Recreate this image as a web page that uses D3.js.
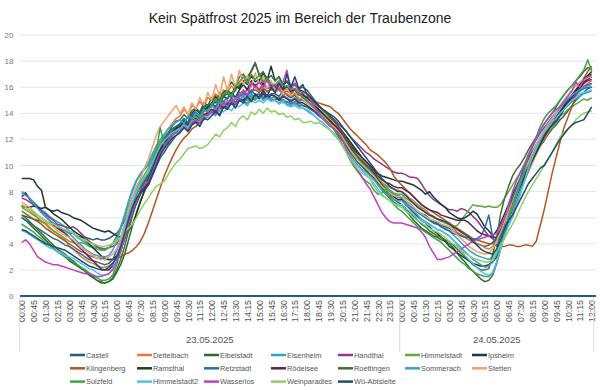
<!DOCTYPE html>
<html><head><meta charset="utf-8">
<script src="https://cdn.jsdelivr.net/npm/d3@7"></script>
<style>body{margin:0;background:#fff;}svg{display:block;font-family:"Liberation Sans",Arial,sans-serif;}</style>
</head><body><svg id="c" width="600" height="390"></svg>
<script>
const title = "Kein Spätfrost 2025 im Bereich der Traubenzone";
const days = ["23.05.2025", "24.05.2025"];
const dayLengths = [96, 49]; // 15-minute readings per day shown
const yTicks = [0, 2, 4, 6, 8, 10, 12, 14, 16, 18, 20];
const seriesNames = ["Castell","Dettelbach","Eibelstadt","Eisenheim","Handthal","Himmelstadt","Ipsheim",
  "Klingenberg","Ramsthal","Retzstadt","Rödelsee","Roettingen","Sommerach","Stetten",
  "Sulzfeld","Himmelstadt2","Wasserlos","Weinparadies","Wü-Abtsleite"];
const seriesColors = ["#1f5f7a","#e07b39","#2a6b2f","#2ba5c2","#8f3a8f","#5fab3c","#163b3b",
  "#b5561f","#203b28","#2b6f9e","#5b2357","#3e6e35","#3b9fd6","#f2a06d",
  "#3da24a","#50c2ef","#c13fc1","#8fcf63","#1d4d6e"];

const castell = [6.2,6.1,6.0,5.9,5.8,5.7,5.6,5.6,5.4,5.3,5.1,5.0,4.8,4.8,4.6,4.5,4.5,4.4,4.3,4.4,4.3,4.3,4.4,4.6,4.8,5.2,5.8,6.4,7.0,7.5,7.9,8.2,8.5,9.2,9.9,10.6,11.0,11.5,11.9,12.3,12.6,12.9,12.7,13.2,13.4,13.2,13.7,13.9,14.0,14.3,13.9,14.5,14.4,14.8,14.5,15.0,15.0,14.6,15.2,15.3,15.1,15.6,15.2,15.5,15.5,15.3,15.7,15.4,15.2,15.4,15.0,15.1,14.8,14.6,14.5,14.2,14.0,13.6,13.4,13.0,12.5,12.2,11.8,11.3,10.9,10.5,10.1,9.7,9.3,9.0,8.6,8.3,8.1,7.9,7.7,7.6,
  7.5,7.2,7.0,6.8,6.5,6.3,6.2,5.9,5.7,5.6,5.4,5.3,5.2,5.0,4.8,4.7,4.5,4.3,4.2,4.0,3.9,3.8,3.9,4.1,4.5,5.1,5.8,6.4,7.0,7.8,8.6,9.2,9.8,10.4,10.9,11.5,11.9,12.4,12.8,13.1,13.5,13.8,14.2,14.6,15.0,15.3,15.6,15.9,16.0];
const dettelbach = [7.0,6.8,6.6,6.3,6.0,5.7,5.6,5.3,5.0,4.8,4.5,4.3,3.8,3.6,3.3,3.0,2.8,2.6,2.5,2.3,2.2,2.2,2.3,2.5,3.0,3.6,4.4,5.4,6.2,7.2,8.0,8.8,9.5,10.3,11.0,11.8,12.3,12.8,13.2,13.6,13.8,14.3,13.9,14.6,14.4,14.9,14.5,15.2,15.0,15.5,15.1,15.8,15.6,16.1,15.7,16.3,16.2,15.8,16.4,16.0,15.7,16.1,15.6,15.9,15.6,15.8,15.4,15.5,15.3,15.5,15.1,15.2,15.0,14.7,14.5,14.3,14.1,13.8,13.6,13.3,13.0,12.6,12.2,11.8,11.4,11.0,10.6,10.2,9.8,9.4,9.0,8.7,8.5,8.3,8.2,8.1,
  8.0,7.8,7.5,7.3,7.0,6.8,6.6,6.3,6.1,5.9,5.8,5.6,5.5,5.2,4.9,4.7,4.5,4.3,4.1,4.0,3.9,3.7,3.6,3.8,4.2,4.8,5.4,5.9,6.5,7.3,8.0,8.8,9.5,10.2,10.9,11.5,12.0,12.5,12.9,13.4,13.8,14.3,14.6,15.0,15.4,15.7,16.1,16.3,16.5];
const eibelstadt = [6.0,5.8,5.5,5.2,4.9,4.6,4.3,4.0,3.7,3.4,3.2,3.0,2.7,2.5,2.3,2.1,1.9,1.6,1.4,1.2,1.1,1.0,1.1,1.3,1.8,2.4,3.2,4.3,5.4,6.4,7.3,8.0,8.6,9.4,10.2,11.0,11.6,12.2,12.6,13.0,13.1,13.5,13.2,13.8,14.0,13.7,14.3,14.5,14.5,15.0,14.6,15.3,15.5,15.2,15.9,16.1,16.4,16.8,17.2,17.8,17.0,16.4,16.8,16.2,16.0,16.3,15.8,16.1,15.8,15.5,15.6,15.2,14.9,14.7,14.4,14.1,13.8,13.5,13.2,12.8,12.3,11.9,11.5,11.0,10.6,10.2,9.9,9.6,9.3,9.0,8.6,8.2,7.9,7.7,7.4,7.2,
  7.0,6.6,6.2,5.8,5.5,5.2,5.0,4.8,4.6,4.5,4.3,4.2,4.0,3.7,3.3,2.9,2.6,2.2,1.9,1.6,1.3,1.1,1.2,1.6,2.5,3.6,4.8,5.8,6.8,7.8,8.6,9.3,10.0,10.6,11.2,11.8,12.3,12.7,13.1,13.6,14.0,14.4,14.8,15.3,15.7,16.2,16.6,16.9,17.0];
const eisenheim = [8.0,7.8,7.5,7.2,6.9,6.6,6.4,6.1,5.9,5.7,5.5,5.3,5.0,4.8,4.5,4.3,4.1,3.9,3.8,3.7,3.7,3.6,3.7,4.0,4.6,5.3,6.2,7.2,8.0,8.8,9.3,9.7,10.0,10.7,11.3,11.8,12.2,12.5,12.8,12.9,13.0,13.4,13.2,13.7,13.6,14.0,13.8,14.1,14.3,14.0,14.5,14.8,14.6,15.0,14.7,15.1,15.2,15.0,15.4,15.1,15.3,15.5,15.2,15.4,15.3,15.1,15.4,15.2,15.0,15.2,14.9,15.0,14.8,14.6,14.4,14.1,13.9,13.6,13.3,13.0,12.6,12.2,11.8,11.4,11.0,10.6,10.3,9.9,9.6,9.2,8.9,8.5,8.3,8.0,7.8,7.7,
  7.6,7.3,7.1,6.8,6.5,6.3,6.0,5.8,5.6,5.5,5.3,5.2,5.0,4.7,4.4,4.1,3.8,3.5,3.3,3.1,3.0,2.9,2.8,3.0,3.4,4.0,4.8,5.5,6.2,7.1,8.0,8.9,9.6,10.4,11.1,11.8,12.3,12.7,13.2,13.7,14.2,14.5,14.6,14.9,15.1,15.3,15.5,15.6,15.7];
const handthal = [7.5,7.4,7.2,7.0,6.8,6.5,6.3,6.0,5.8,5.5,5.4,5.3,5.2,5.3,5.1,4.8,4.5,4.2,4.0,3.8,3.6,3.6,3.7,3.8,4.0,4.5,5.4,6.3,7.1,7.8,8.3,8.7,9.0,9.7,10.5,11.2,11.6,12.0,12.3,12.6,12.8,13.3,12.9,13.5,13.3,13.8,13.6,14.2,14.0,14.6,14.2,14.9,14.7,15.2,14.8,15.4,15.3,15.9,15.5,16.2,15.8,16.3,15.9,16.0,15.8,16.1,15.7,15.9,15.6,15.8,15.4,15.5,15.2,15.0,14.8,14.5,14.3,14.1,13.8,13.5,13.2,12.9,12.6,12.2,11.9,11.6,11.3,11.0,10.8,10.5,10.3,10.1,9.9,9.7,9.5,9.4,
  9.4,9.3,9.1,9.1,9.0,8.6,8.1,7.7,7.4,7.2,7.0,6.8,6.6,6.6,6.5,6.7,6.6,6.4,6.1,5.8,5.4,5.0,4.6,4.4,4.2,4.6,5.6,6.6,7.5,8.2,8.9,9.6,10.2,10.8,11.4,12.0,12.4,12.8,13.2,13.6,14.0,14.4,14.8,15.1,15.4,15.8,16.0,16.2,16.3];
const himmelstadt = [6.8,6.6,6.4,6.2,6.0,5.7,5.5,5.2,5.0,4.8,4.6,4.4,4.2,4.1,4.0,4.1,4.0,3.8,3.7,3.6,3.5,3.5,3.7,4.0,4.5,5.2,6.0,6.9,7.6,8.2,8.8,9.3,9.8,10.5,11.2,11.8,12.1,12.4,12.6,12.8,13.0,13.2,13.0,13.5,13.6,13.4,13.9,14.0,14.2,14.0,14.5,14.4,14.6,14.9,14.6,15.0,15.0,14.8,15.2,15.0,15.3,15.1,15.4,15.2,15.2,15.0,15.1,14.8,14.9,14.7,14.8,14.6,14.5,14.3,14.1,13.9,13.8,13.5,13.2,13.0,12.7,12.3,11.9,11.5,11.1,10.7,10.4,10.1,9.8,9.4,9.0,8.6,8.4,8.1,7.9,7.8,
  7.8,7.5,7.3,7.1,6.9,6.7,6.4,6.2,6.0,5.9,5.7,5.6,5.5,5.3,5.4,5.8,6.2,6.6,7.0,6.9,6.9,6.8,6.9,6.8,6.8,7.0,7.5,8.0,8.5,9.0,9.5,10.0,10.5,11.0,11.5,12.0,12.3,12.6,12.9,13.2,13.8,14.0,14.3,14.5,14.7,14.9,15.1,15.0,15.2];
const ipsheim = [6.9,6.8,6.8,6.9,6.8,6.7,6.8,6.6,6.5,6.6,6.4,6.3,6.2,6.0,5.9,5.8,5.6,5.4,5.2,5.1,5.0,4.9,5.0,4.8,4.6,4.5,4.7,5.0,5.5,6.3,7.2,8.1,9.0,9.8,10.6,11.3,11.8,12.2,12.5,12.8,13.0,13.4,13.1,13.7,13.9,13.6,14.2,14.4,14.8,14.4,15.0,15.3,15.1,15.6,15.2,15.8,16.2,15.8,16.5,16.1,16.4,17.1,16.5,17.6,16.5,16.8,16.2,16.4,16.0,16.2,15.8,15.7,15.5,15.2,14.9,14.6,14.3,14.0,13.7,13.4,13.0,12.6,12.2,11.8,11.4,11.0,10.6,10.3,10.0,9.7,9.4,9.2,9.1,9.0,8.9,8.8,
  8.8,8.7,8.6,8.5,8.3,8.1,7.8,8.0,7.6,7.3,7.0,6.8,6.4,6.2,6.0,5.9,6.0,6.2,6.5,6.3,5.8,5.3,5.0,4.6,5.0,5.6,6.3,7.0,7.8,8.4,9.0,9.6,10.5,11.1,11.6,12.1,12.5,12.9,13.3,13.6,14.0,14.5,14.9,15.3,15.7,16.1,16.4,16.6,16.8];
const klingenberg = [6.5,6.3,6.1,5.9,5.7,5.5,5.2,5.0,4.8,4.6,4.4,4.2,4.0,3.8,3.6,3.4,3.3,3.1,3.0,2.9,2.9,2.8,2.8,2.8,2.9,3.0,3.2,3.3,3.5,3.8,4.2,4.8,5.6,6.5,7.4,8.3,9.2,9.9,10.6,11.2,11.7,12.1,12.4,12.8,13.0,13.3,13.5,13.8,14.0,14.3,14.2,14.6,14.8,15.0,15.1,15.3,15.5,15.4,15.7,15.8,15.6,15.9,15.7,15.8,15.8,15.9,15.6,15.7,15.5,15.6,15.4,15.3,15.3,15.1,14.9,14.8,14.7,14.6,14.5,14.2,14.0,13.6,13.2,12.8,12.5,12.2,11.9,11.6,11.2,11.0,10.8,10.5,10.2,9.8,9.2,8.8,
  8.5,8.2,7.9,7.6,7.3,7.0,6.8,6.6,6.4,6.2,6.0,5.8,5.6,5.4,5.2,5.0,4.8,4.6,4.4,4.3,4.2,4.1,4.0,4.0,3.9,3.8,3.8,3.9,3.9,3.8,3.8,3.9,3.9,3.8,4.2,5.4,6.6,8.0,9.4,10.6,11.8,12.9,13.7,14.5,15.3,16.0,16.7,17.2,17.6];
const ramsthal = [9.0,9.0,9.0,8.9,8.4,8.1,6.8,6.6,6.3,6.1,5.9,5.6,5.3,5.0,4.8,4.6,4.3,4.0,3.7,3.4,3.1,2.9,2.8,2.8,3.1,3.6,4.4,5.4,6.3,7.1,7.8,8.3,8.8,9.6,10.4,11.1,11.7,12.2,12.5,12.9,13.2,13.6,13.3,14.0,14.3,14.0,14.6,14.5,14.8,15.3,14.9,15.6,15.8,15.4,16.1,15.9,16.5,16.2,16.9,16.4,16.6,16.2,16.5,16.1,16.0,16.3,15.9,16.0,15.7,15.9,15.5,15.4,15.2,14.9,14.6,14.3,14.0,13.7,13.4,13.1,12.8,12.3,11.9,11.4,11.0,10.6,10.3,10.0,9.8,9.4,8.9,8.5,8.1,7.9,7.6,7.4,
  7.4,7.0,6.7,6.4,6.1,5.8,5.6,5.3,5.0,4.8,4.5,4.2,3.8,3.6,3.3,3.1,2.9,2.7,2.5,2.4,2.3,2.3,2.4,2.6,3.0,3.8,4.8,5.9,6.8,7.6,8.4,9.1,9.8,10.4,11.0,11.6,12.2,12.7,13.2,13.7,14.1,14.6,15.0,15.4,15.8,16.2,16.6,16.9,17.2];
const retzstadt = [6.0,5.8,5.6,5.4,5.2,5.0,4.8,4.6,4.4,4.3,4.1,3.9,3.8,3.6,3.4,3.2,3.0,2.8,2.7,2.6,2.5,2.4,2.5,2.8,3.5,4.3,5.3,6.4,7.2,7.9,8.4,8.8,9.2,10.0,10.8,11.5,12.0,12.4,12.8,13.0,13.2,13.6,13.3,13.9,14.1,13.8,14.4,14.6,14.8,14.5,15.1,14.9,15.2,15.5,15.1,15.6,15.6,15.3,15.8,15.4,15.5,15.2,15.4,15.0,15.0,15.2,14.8,14.9,14.7,14.9,14.6,14.6,14.5,14.3,14.1,13.8,13.6,13.3,13.0,12.8,12.4,12.0,11.6,11.2,10.8,10.5,10.2,9.9,9.6,9.2,8.8,8.4,8.1,7.9,7.7,7.6,
  7.5,7.2,6.9,6.7,6.4,6.2,6.0,5.8,5.6,5.5,5.3,5.1,5.0,4.8,4.7,4.6,4.5,4.5,4.3,4.4,4.6,5.2,6.2,4.5,3.8,4.6,5.7,6.6,7.5,8.3,9.1,10.0,10.8,11.4,12.0,12.5,12.9,13.3,13.7,14.1,14.5,14.8,15.1,15.3,15.5,15.7,15.9,16.0,16.0];
const roedelsee = [7.6,7.9,7.4,7.1,6.8,6.4,6.1,5.8,5.5,5.2,5.0,4.8,4.5,4.2,3.9,3.6,3.3,3.0,2.7,2.4,2.1,2.0,2.0,2.3,2.8,3.5,4.4,5.5,6.5,7.3,7.9,8.2,8.5,9.3,10.1,10.9,11.5,11.9,12.3,12.6,12.8,13.2,12.9,13.4,13.6,13.3,13.9,14.0,14.3,14.0,14.6,14.4,14.7,15.0,14.6,15.1,15.0,15.3,14.9,15.4,15.2,15.5,15.1,15.4,15.3,15.0,15.3,15.1,14.9,15.1,14.8,14.8,14.6,14.4,14.2,13.9,13.7,13.5,13.3,13.1,12.8,12.4,12.0,11.6,11.2,10.9,10.6,10.3,10.0,9.6,9.2,8.9,8.7,8.6,8.4,8.3,
  8.3,8.1,7.9,7.6,7.3,7.0,6.8,6.6,6.5,6.4,6.2,6.1,6.0,5.9,5.8,5.8,5.8,5.6,5.3,5.0,4.8,4.7,4.6,4.5,4.5,5.0,5.8,6.5,7.2,7.9,8.6,9.4,10.2,10.8,11.4,12.0,12.4,12.8,13.1,13.4,13.8,14.3,14.8,15.2,15.6,15.9,16.3,16.5,16.6];
const roettingen = [6.2,6.0,5.7,5.4,5.1,4.8,4.5,4.2,3.9,3.6,3.4,3.2,2.9,2.7,2.4,2.2,2.0,1.7,1.5,1.2,1.0,1.0,1.1,1.4,2.0,2.8,3.8,5.0,6.2,7.2,8.0,8.7,9.3,10.1,10.8,11.5,12.0,12.5,13.0,13.4,13.5,13.9,13.6,14.2,14.4,14.1,14.8,14.6,15.2,14.8,15.6,15.3,15.9,16.4,16.0,16.8,17.0,16.5,17.3,17.9,16.9,17.2,16.6,16.9,16.5,16.8,16.2,16.5,16.1,16.3,15.9,16.0,15.8,15.4,15.0,14.6,14.3,14.0,13.7,13.4,13.0,12.5,12.0,11.5,11.0,10.6,10.3,10.0,9.8,9.3,8.7,8.2,7.8,7.5,7.2,7.0,
  7.0,6.7,6.4,6.1,5.8,5.5,5.3,5.0,4.8,4.6,4.5,4.3,4.2,3.9,3.6,3.3,3.0,2.7,2.4,2.2,2.0,2.0,2.1,3.2,4.5,6.3,7.5,8.4,9.2,9.7,10.1,10.6,11.2,11.7,12.2,12.7,13.2,13.6,14.0,14.5,15.0,15.4,15.8,16.1,16.5,16.8,17.2,17.5,17.4];
const sommerach = [7.9,7.7,7.5,7.1,6.7,6.4,6.1,5.8,5.6,5.4,5.2,5.0,4.8,4.5,4.2,3.9,3.6,3.4,3.2,3.1,3.0,3.0,3.1,3.5,4.2,5.1,6.2,7.3,8.2,8.9,9.4,9.8,10.2,10.9,11.5,12.0,12.4,12.8,13.1,13.3,13.5,13.2,13.8,13.6,14.0,13.7,14.3,14.1,14.6,14.3,14.9,14.6,15.0,14.7,15.2,15.0,15.4,15.1,15.5,15.2,15.3,15.0,15.2,15.1,15.0,14.8,15.0,14.7,14.6,14.8,14.5,14.4,14.2,14.0,13.8,13.5,13.3,13.0,12.7,12.4,12.0,11.6,11.2,10.8,10.4,10.0,9.7,9.5,9.2,8.9,8.5,8.1,7.8,7.6,7.4,7.3,
  7.3,7.0,6.8,6.5,6.2,5.9,5.7,5.5,5.3,5.1,5.0,4.8,4.6,4.3,4.0,3.7,3.4,3.1,2.8,2.6,2.4,2.2,2.3,2.6,3.2,4.0,5.0,5.9,6.8,7.7,8.6,9.5,10.3,11.0,11.6,12.2,12.7,13.1,13.5,14.0,14.4,14.8,15.1,15.4,15.6,15.8,16.0,16.1,16.2];
const stetten = [7.2,7.0,6.8,6.5,6.2,5.9,5.7,5.5,5.3,5.0,4.8,4.6,4.5,4.3,4.0,3.7,3.5,3.3,3.1,2.9,2.8,2.8,3.0,3.2,3.6,4.4,5.5,6.6,7.6,8.4,9.0,9.8,10.5,11.4,12.3,13.0,13.4,13.8,14.2,14.6,14.0,14.5,13.9,14.8,14.3,15.2,14.6,15.6,15.0,16.2,15.3,16.8,15.7,17.0,16.0,17.3,16.2,16.9,16.0,17.1,16.3,16.8,15.9,16.5,15.8,16.2,15.6,15.9,15.4,15.6,15.2,15.1,14.8,14.6,14.3,14.0,13.8,13.5,13.2,12.9,12.6,12.2,11.7,11.2,10.8,10.4,10.1,9.8,9.5,9.2,8.8,8.4,8.1,7.9,7.7,7.6,
  7.6,7.3,7.0,6.8,6.5,6.3,6.1,5.9,5.8,5.7,5.5,5.4,5.3,5.0,4.7,4.4,4.1,3.8,3.6,3.4,3.3,3.2,3.3,3.6,4.2,4.9,5.7,6.5,7.2,8.0,8.8,9.5,10.2,10.9,11.6,12.2,12.7,13.2,13.6,14.1,14.6,15.0,15.4,15.8,16.1,16.4,16.6,16.7,16.8];
const sulzfeld = [5.5,5.3,5.1,4.9,4.6,4.4,4.1,3.9,3.6,3.4,3.2,3.0,2.8,2.6,2.4,2.2,2.0,1.8,1.6,1.4,1.2,1.2,1.3,1.6,2.4,3.4,4.6,5.8,6.9,7.8,8.5,9.0,9.4,10.3,11.1,12.9,11.6,11.9,12.3,12.6,12.8,13.2,12.9,13.6,13.8,13.5,14.1,14.3,14.6,15.1,14.8,15.5,15.7,15.3,16.1,16.4,16.8,16.3,17.0,16.6,16.9,16.4,16.7,16.2,16.2,16.5,16.0,16.1,15.8,15.9,15.5,15.3,15.0,14.7,14.4,14.0,13.7,13.4,13.1,12.7,12.2,11.6,11.0,10.4,9.9,9.5,9.1,8.8,8.6,8.1,7.8,7.9,8.2,7.6,7.0,6.7,
  6.5,6.2,5.9,5.6,5.3,5.1,4.9,4.7,4.5,4.3,4.1,3.8,3.5,3.2,2.9,2.6,2.4,2.1,1.9,1.7,1.6,1.5,1.5,1.8,2.6,3.8,5.0,6.1,7.0,7.9,8.7,9.5,10.8,11.5,12.2,13.0,13.6,14.0,14.3,14.6,15.0,15.4,15.8,16.1,16.5,16.9,17.3,18.1,17.2];
const himmelstadt2 = [5.0,4.9,4.7,4.5,4.3,4.1,3.9,3.7,3.6,3.4,3.3,3.1,3.0,2.9,2.7,2.5,2.3,2.1,2.0,1.8,1.6,1.6,1.7,2.1,3.0,4.0,5.2,6.3,7.2,8.0,8.6,9.1,9.5,10.2,10.9,11.5,11.9,12.2,12.5,12.7,12.8,13.1,12.9,13.4,13.5,13.3,13.8,13.7,14.0,13.8,14.3,14.1,14.4,14.2,14.6,14.5,14.8,14.6,15.0,14.8,15.0,14.8,15.1,14.9,15.0,14.7,14.9,14.6,14.5,14.6,14.4,14.4,14.3,14.1,13.8,13.5,13.3,13.0,12.7,12.4,12.0,11.6,11.1,10.6,10.2,9.9,9.6,9.3,9.0,8.6,8.2,7.8,7.5,7.3,7.1,7.0,
  7.0,6.7,6.5,6.2,6.0,5.8,5.6,5.4,5.3,5.1,5.0,4.8,4.6,4.3,3.9,3.5,3.1,2.8,2.5,2.2,1.9,1.7,1.6,1.8,2.6,3.6,4.6,5.4,6.0,6.9,7.8,8.8,9.8,10.6,11.3,12.0,12.5,12.9,13.3,13.6,14.0,14.3,14.7,15.0,15.2,15.5,15.6,15.7,15.8];
const wasserlos = [4.1,4.3,4.0,3.5,3.0,2.8,2.6,2.5,2.4,2.4,2.3,2.2,2.1,2.0,1.9,1.8,1.7,1.7,1.6,1.5,1.5,1.6,1.7,2.0,2.6,3.4,4.4,5.5,6.5,7.3,8.0,8.5,8.8,9.5,10.3,11.0,11.5,11.9,12.3,12.5,12.6,13.0,12.7,13.3,13.5,13.2,13.8,13.9,14.2,13.9,14.5,14.8,14.5,15.0,14.7,15.3,15.8,15.4,16.3,16.0,16.4,16.0,16.6,15.9,16.2,15.8,16.4,17.3,15.8,16.3,15.7,15.6,15.5,15.0,14.5,14.0,13.6,13.3,13.0,12.8,12.5,12.0,11.3,10.6,10.0,9.6,9.1,8.6,8.2,7.6,7.0,6.4,6.0,5.7,5.6,5.6,
  5.6,5.5,5.4,5.3,5.2,4.9,4.5,3.8,3.3,2.8,2.8,2.9,3.0,3.2,3.4,3.6,3.8,4.0,4.2,4.3,4.4,4.5,4.6,4.7,4.8,5.4,6.0,7.0,8.0,8.8,9.5,10.1,10.8,11.5,12.1,12.7,13.2,13.6,14.0,14.3,14.5,14.9,15.3,15.7,16.4,16.0,16.6,16.8,16.9];
const weinparadies = [7.0,6.8,6.6,6.4,6.2,6.0,5.8,5.6,5.5,5.3,5.2,5.1,5.0,4.8,4.6,4.4,4.3,4.1,4.0,3.9,3.8,3.8,3.9,4.0,4.2,4.5,4.9,5.2,5.5,6.0,6.6,7.1,7.5,8.0,8.4,8.6,8.8,9.3,9.8,10.2,10.5,10.9,11.3,11.4,11.5,11.3,11.4,11.6,12.0,12.4,12.2,12.7,12.9,13.3,13.0,13.6,13.8,13.5,14.1,13.9,14.3,14.0,14.4,14.1,14.2,13.9,14.0,13.7,13.8,13.5,13.6,13.3,13.3,13.4,13.2,13.3,13.1,12.9,12.7,12.3,12.0,11.5,11.0,10.5,10.1,9.7,9.4,9.2,9.0,8.4,8.0,7.7,7.5,7.3,7.0,6.9,
  6.8,6.5,6.3,6.0,5.8,5.6,5.4,5.2,5.0,4.9,4.7,4.5,4.2,4.0,3.8,3.5,3.3,3.1,2.9,2.8,2.7,2.6,2.6,2.8,3.4,3.9,4.4,5.0,5.5,6.1,6.8,7.4,8.0,8.5,9.0,9.5,10.0,10.5,11.0,11.6,12.2,12.5,12.8,13.1,13.5,13.8,14.0,14.1,14.2];
const wueAbtsleite = [5.1,5.0,4.8,4.6,4.4,4.2,4.0,3.9,3.8,3.7,3.6,3.5,3.3,3.1,2.9,2.7,2.5,2.3,2.2,2.1,2.0,2.0,2.2,2.5,3.0,3.8,4.8,5.9,6.8,7.5,8.0,8.3,8.6,9.3,10.0,10.8,11.3,11.7,12.1,12.3,12.5,12.9,12.6,13.1,13.3,13.0,13.6,13.5,13.8,14.2,13.8,14.5,14.3,14.8,14.4,15.0,14.8,15.3,14.9,15.5,15.2,15.8,15.3,16.0,15.6,16.3,15.8,17.0,16.0,16.8,15.9,16.2,15.5,15.2,14.9,14.6,14.3,14.1,13.9,13.7,13.4,13.0,12.6,12.2,11.8,11.4,11.0,10.6,10.2,9.8,9.4,9.0,8.7,8.4,8.2,8.0,
  8.0,7.7,7.4,7.1,6.8,6.6,6.4,6.2,6.1,5.9,5.8,5.7,5.5,5.3,5.1,4.9,4.7,4.5,4.2,3.9,3.6,3.4,3.3,3.2,3.6,4.3,5.2,5.8,6.2,6.8,7.4,8.0,8.6,9.0,9.4,9.8,10.0,10.5,11.0,11.5,12.0,12.4,12.8,13.1,13.3,13.4,13.5,14.0,14.5];

const seriesValues = [castell, dettelbach, eibelstadt, eisenheim, handthal, himmelstadt, ipsheim,
  klingenberg, ramsthal, retzstadt, roedelsee, roettingen, sommerach, stetten,
  sulzfeld, himmelstadt2, wasserlos, weinparadies, wueAbtsleite];

// categories: day + time of day at 15-minute spacing
const categories = [];
days.forEach((d, di) => {
  for (let k = 0; k < dayLengths[di]; k++) {
    const h = Math.floor(k / 4), m = (k % 4) * 15;
    const t = String(h).padStart(2, "0") + ":" + String(m).padStart(2, "0");
    categories.push({key: d + " " + t, day: d, time: t});
  }
});
const keys = categories.map(c => c.key);

const svg = d3.select("#c");
const x = d3.scalePoint().domain(keys).range([21.7, 591.7]);
const y = d3.scaleLinear().domain([0, 20]).range([296, 35]);
const step = x.step();

svg.append("text").attr("x", 300).attr("y", 23).attr("text-anchor", "middle")
  .attr("font-size", 14).attr("fill", "#222").text(title);

// grid
svg.append("g").selectAll("line").data(yTicks.filter(t => t > 0)).join("line")
  .attr("x1", 20).attr("x2", 596).attr("y1", d => y(d)).attr("y2", d => y(d))
  .attr("stroke", "#e4e4e4").attr("stroke-width", 1);

// y axis labels
const yAxis = svg.append("g").attr("transform", "translate(13.5,0)")
  .call(d3.axisLeft(y).tickValues(yTicks).tickSize(0).tickPadding(0));
yAxis.select(".domain").remove();
yAxis.selectAll("text").attr("font-size", 8).attr("fill", "#777").attr("font-family", "Liberation Sans, Arial, sans-serif");

// x axis labels
const xAxis = svg.append("g").attr("transform", "translate(0,296)")
  .call(d3.axisBottom(x).tickValues(keys.filter((k, i) => i % 3 === 0)).tickSize(0)
    .tickFormat(k => categories[keys.indexOf(k)].time));
xAxis.select(".domain").remove();
xAxis.selectAll("text").attr("font-size", 8.8).attr("fill", "#555")
  .attr("font-family", "Liberation Sans, Arial, sans-serif")
  .attr("transform", "rotate(-90)").attr("text-anchor", "end")
  .attr("x", -4).attr("y", 0).attr("dy", "0.35em");

// day group separators and labels
const bounds = [];
let idx = 0;
days.forEach((d, di) => {
  const first = keys[idx], last = keys[idx + dayLengths[di] - 1];
  bounds.push({day: d, x0: x(first) - step / 2, x1: x(last) + step / 2});
  idx += dayLengths[di];
});
const sepX = [bounds[0].x0].concat(bounds.map(b => b.x1));
svg.append("g").selectAll("line").data(sepX).join("line")
  .attr("x1", d => d).attr("x2", d => d).attr("y1", 297).attr("y2", 352)
  .attr("stroke", "#dcdcdc").attr("stroke-width", 1);
svg.append("g").selectAll("text").data(bounds).join("text")
  .attr("x", d => (d.x0 + d.x1) / 2).attr("y", 343).attr("text-anchor", "middle")
  .attr("font-size", 9.5).attr("fill", "#555").text(d => d.day);

// series lines
const line = d3.line().x((d, i) => x(keys[i])).y(d => y(d));
svg.append("g").selectAll("path").data(seriesValues).join("path")
  .attr("d", d => line(d)).attr("fill", "none")
  .attr("stroke", (d, i) => seriesColors[i]).attr("stroke-width", 1.5)
  .attr("stroke-linejoin", "round");

// zero baseline
svg.append("line").attr("x1", 20).attr("x2", 596).attr("y1", y(0)).attr("y2", y(0))
  .attr("stroke", "#1f5f7a").attr("stroke-width", 1.8);

// legend
const lg = svg.append("g").selectAll("g").data(seriesNames).join("g")
  .attr("transform", (d, i) => `translate(${70 + (i % 7) * 67},${355 + Math.floor(i / 7) * 13.3})`);
lg.append("line").attr("x1", 0).attr("x2", 15).attr("y1", 0).attr("y2", 0)
  .attr("stroke", (d, i) => seriesColors[i]).attr("stroke-width", 2.5);
lg.append("text").attr("x", 16).attr("y", 0).attr("dy", "0.35em")
  .attr("font-size", 7.4).attr("fill", "#555").text(d => d);
</script></body></html>
